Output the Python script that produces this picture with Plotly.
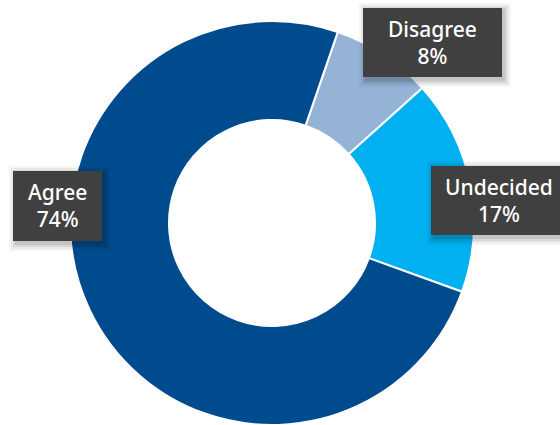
import plotly.graph_objects as go

# Survey response shares (percent)
categories = ["Disagree", "Undecided", "Agree"]
shares = [8, 17, 74]
colors = ["#95b3d7", "#00b0f0", "#004b8d"]

W, H = 560, 425

fig = go.Figure(
    go.Pie(
        labels=categories,
        values=shares,
        hole=0.51,
        sort=False,
        direction="clockwise",
        rotation=19,
        marker=dict(colors=colors, line=dict(color="white", width=2)),
        textinfo="none",
        hoverinfo="label+percent",
        domain=dict(x=[70 / W, 474 / W], y=[0 / H, 404 / H]),
        showlegend=False,
    )
)

# Label boxes in pixel space: (left, top, right, bottom)
boxes = {
    "Disagree": (363, 8, 502, 77),
    "Undecided": (431, 166, 567, 235),
    "Agree": (13, 171, 102, 241),
}


def px(x):
    return x / W


def py(y):
    return 1 - y / H


shapes = []
annotations = []
for cat, val in zip(categories, shares):
    l, t, r, b = boxes[cat]
    # soft drop shadow built from a few translucent layers
    for grow, op in [(6, 0.035), (4, 0.05), (2, 0.07), (0, 0.09)]:
        shapes.append(
            dict(
                type="rect", xref="paper", yref="paper",
                x0=px(l + 2 - grow), x1=px(r + 3 + grow),
                y0=py(b + 4 + grow), y1=py(t + 1 - grow),
                fillcolor=f"rgba(0,0,0,{op})", line=dict(width=0),
                layer="above",
            )
        )
    shapes.append(
        dict(
            type="rect", xref="paper", yref="paper",
            x0=px(l), x1=px(r), y0=py(b), y1=py(t),
            fillcolor="#404040", line=dict(width=0), layer="above",
        )
    )
    annotations.append(
        dict(
            xref="paper", yref="paper",
            x=px((l + r) / 2), y=py((t + b) / 2),
            text=f"{cat}<br>{val}%",
            showarrow=False, xanchor="center", yanchor="middle",
            align="center",
            font=dict(family="Noto Sans", size=21, color="white", weight=500),
        )
    )

fig.update_layout(
    width=W, height=H,
    margin=dict(l=0, r=0, t=0, b=0),
    paper_bgcolor="white",
    plot_bgcolor="white",
    shapes=shapes,
    annotations=annotations,
)

fig.write_html("out.html")
